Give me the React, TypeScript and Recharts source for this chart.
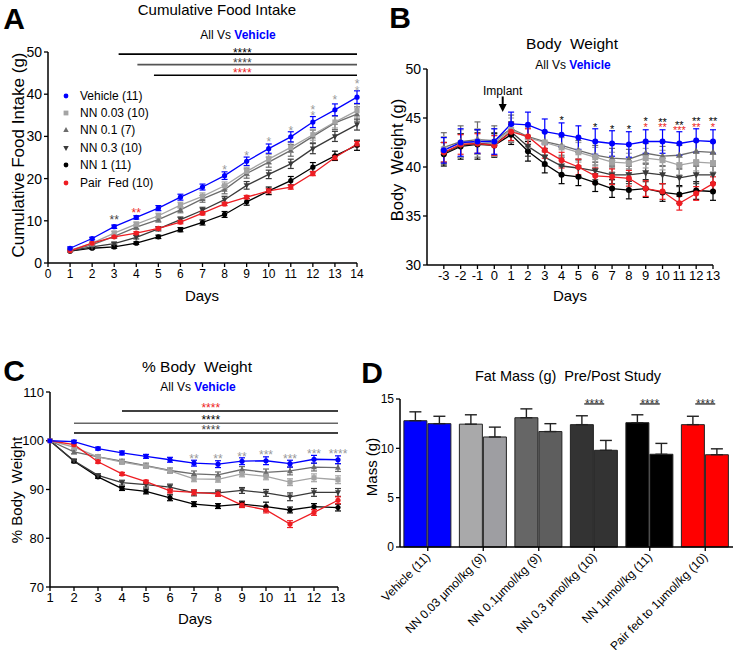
import React from 'react';
import {
  LineChart, Line, XAxis, YAxis, ErrorBar, ReferenceLine, ReferenceDot, Legend,
  BarChart, Bar, Cell,
} from 'recharts';

const FONT = '"Liberation Sans", Arial, Helvetica, sans-serif';

const BLUE = '#0000FF';
const LGRAY = '#A4A4A4';
const MGRAY = '#6C6C6C';
const DGRAY = '#3A3A3A';
const BLACK = '#000000';
const RED = '#EE1D23';
const STARGRAY = '#999999';

// ---------------- Panel A : cumulative food intake ----------------
const foodDays = [1, 2, 3, 4, 5, 6, 7, 8, 9, 10, 11, 12, 13, 14];
const foodVehicle = [3.5, 5.8, 8.6, 10.8, 13.0, 15.6, 18.0, 20.7, 24.1, 27.1, 29.9, 33.4, 36.3, 39.3];
const foodNN003 = [3.0, 4.7, 7.1, 9.2, 11.2, 13.7, 15.8, 18.3, 21.7, 24.6, 27.4, 30.4, 33.4, 36.1];
const foodNN01 = [3.0, 4.3, 6.3, 8.5, 10.3, 12.6, 15.2, 17.4, 21.2, 23.9, 26.7, 30.0, 33.2, 35.3];
const foodNN03 = [2.9, 3.8, 4.6, 6.1, 8.1, 10.3, 12.5, 15.0, 18.4, 21.0, 23.5, 27.1, 30.0, 32.8];
const foodNN1 = [2.8, 3.5, 3.8, 4.7, 6.2, 7.9, 9.6, 11.5, 14.5, 17.1, 19.5, 22.7, 25.4, 27.9];
const foodPairFed = [2.9, 4.7, 6.2, 7.1, 8.2, 9.7, 11.8, 14.0, 15.6, 17.1, 18.0, 21.2, 25.0, 28.2];

const foodVehicleErr = [0.3, 0.3, 0.4, 0.4, 0.6, 0.7, 0.7, 0.9, 1.0, 1.1, 1.2, 1.3, 1.4, 1.5];
const foodNN003Err = [0.2, 0.3, 0.4, 0.5, 0.6, 0.7, 0.8, 0.9, 1.0, 1.1, 1.2, 1.3, 1.4, 1.5];
const foodNN01Err = [0.2, 0.3, 0.4, 0.5, 0.6, 0.7, 0.8, 1.0, 1.1, 1.2, 1.4, 1.5, 1.6, 1.7];
const foodNN03Err = [0.2, 0.3, 0.3, 0.4, 0.5, 0.6, 0.7, 0.8, 0.9, 1.0, 1.1, 1.2, 1.2, 1.3];
const foodNN1Err = [0.2, 0.2, 0.3, 0.3, 0.4, 0.5, 0.6, 0.7, 0.8, 0.9, 1.0, 1.1, 1.1, 1.2];
const foodPairFedErr = [0.1, 0.2, 0.2, 0.3, 0.3, 0.4, 0.4, 0.4, 0.4, 0.5, 0.5, 0.5, 0.5, 0.6];

const foodSigLines = [
  { x1: 3.2, x2: 14, y: 49.5, c: '#000' },
  { x1: 4.05, x2: 14, y: 47.0, c: '#555' },
  { x1: 4.8, x2: 14, y: 44.5, c: '#000' },
];
const foodStars = [
  { x: 8.8, y: 50.5, t: '****', c: '#000' },
  { x: 8.8, y: 48.1, t: '****', c: '#444' },
  { x: 8.8, y: 45.6, t: '****', c: RED },
  { x: 3, y: 10.9, t: '**', c: '#444' },
  { x: 4, y: 12.5, t: '**', c: RED },
  { x: 8, y: 22.8, t: '*', c: STARGRAY },
  { x: 9, y: 26.0, t: '*', c: STARGRAY },
  { x: 10, y: 29.4, t: '*', c: STARGRAY },
  { x: 11, y: 31.9, t: '*', c: STARGRAY },
  { x: 12, y: 37.0, t: '*', c: STARGRAY },
  { x: 12, y: 35.6, t: '*', c: STARGRAY },
  { x: 13, y: 39.3, t: '*', c: STARGRAY },
  { x: 14, y: 43.1, t: '*', c: STARGRAY },
  { x: 14, y: 41.5, t: '*', c: '#aaaaaa' },
];

// ---------------- Panel B : body weight ----------------
const bwDays = [-3, -2, -1, 0, 1, 2, 3, 4, 5, 6, 7, 8, 9, 10, 11, 12, 13];
const bwVehicle = [41.7, 42.5, 42.6, 42.6, 44.4, 44.3, 43.6, 43.3, 43.0, 42.6, 42.4, 42.3, 42.6, 42.6, 42.4, 42.7, 42.6];
const bwNN003 = [41.8, 42.4, 42.6, 42.5, 43.8, 43.0, 42.5, 42.0, 41.5, 41.0, 40.5, 40.4, 40.9, 40.7, 40.2, 40.5, 40.4];
const bwNN01 = [42.0, 42.6, 42.8, 42.7, 43.9, 43.1, 42.6, 42.2, 41.7, 41.2, 40.9, 40.8, 41.4, 41.1, 41.2, 41.6, 41.5];
const bwNN03 = [41.4, 42.2, 42.4, 42.3, 43.6, 42.1, 41.0, 40.1, 39.9, 39.6, 39.2, 39.2, 39.4, 39.2, 38.9, 39.2, 39.2];
const bwNN1 = [41.3, 42.1, 42.3, 42.2, 43.3, 41.6, 40.3, 39.2, 39.0, 38.4, 37.8, 37.65, 37.8, 37.4, 37.2, 37.6, 37.5];
const bwPairFed = [41.5, 42.3, 42.4, 42.2, 43.6, 43.1, 41.7, 40.7, 40.0, 39.1, 39.0, 38.85, 37.8, 37.5, 36.3, 37.3, 38.3];

const bwVehicleErr = [1.3, 1.4, 1.2, 1.3, 1.2, 1.3, 1.3, 1.2, 1.2, 1.3, 1.3, 1.3, 1.2, 1.2, 1.2, 1.2, 1.2];
const bwNN003Err = [1.3, 1.4, 1.3, 1.4, 1.2, 1.0, 1.0, 1.0, 1.0, 1.0, 1.0, 1.0, 1.0, 1.0, 1.0, 0.9, 0.9];
const bwNN01Err = [1.5, 1.6, 1.8, 1.5, 1.4, 1.0, 1.0, 1.0, 1.0, 1.0, 1.0, 1.0, 1.0, 1.0, 1.0, 1.0, 1.0];
const bwNN03Err = [1.1, 1.2, 1.1, 1.2, 1.0, 1.0, 0.9, 0.9, 0.9, 0.9, 0.9, 0.9, 0.9, 0.9, 0.9, 0.9, 0.9];
const bwNN1Err = [1.2, 1.3, 1.5, 1.2, 1.0, 1.0, 0.9, 0.9, 0.9, 0.9, 0.9, 0.9, 0.9, 0.9, 0.9, 0.9, 0.9];
const bwPairFedErr = [1.0, 1.0, 1.0, 1.0, 0.9, 0.8, 0.8, 0.8, 0.8, 0.8, 0.8, 0.8, 0.8, 0.8, 0.7, 0.7, 0.7];

const bwStars = [
  { x: 4, y: 45.0, t: '*', c: '#000' },
  { x: 6, y: 44.3, t: '*', c: '#000' },
  { x: 7, y: 44.15, t: '*', c: '#000' },
  { x: 8, y: 44.1, t: '*', c: '#000' },
  { x: 9, y: 44.9, t: '*', c: '#000' },
  { x: 10, y: 44.8, t: '**', c: '#000' },
  { x: 11, y: 44.55, t: '**', c: '#000' },
  { x: 12, y: 44.9, t: '**', c: '#000' },
  { x: 13, y: 44.9, t: '**', c: '#000' },
  { x: 9, y: 44.3, t: '*', c: RED },
  { x: 10, y: 44.3, t: '**', c: RED },
  { x: 11, y: 44.05, t: '***', c: RED },
  { x: 12, y: 44.35, t: '**', c: RED },
  { x: 13, y: 44.35, t: '*', c: RED },
];
const implantDay = 0.5;
const implantArrow = [47.2, 45.6];
const implantTextY = 47.75;

// ---------------- Panel C : % body weight ----------------
const pctDays = [1, 2, 3, 4, 5, 6, 7, 8, 9, 10, 11, 12, 13];
const pctVehicle = [100, 99.8, 98.4, 97.5, 96.8, 96.1, 95.4, 95.2, 95.8, 95.9, 95.3, 96.2, 96.1];
const pctNN003 = [100, 98.7, 96.7, 95.6, 94.8, 93.8, 92.2, 92.1, 93.2, 92.7, 91.5, 92.4, 92.0];
const pctNN01 = [100, 97.7, 96.7, 95.8, 94.9, 93.9, 93.2, 93.0, 94.1, 93.5, 93.8, 94.6, 94.5];
const pctNN03 = [100, 95.9, 92.9, 91.4, 91.0, 90.5, 89.3, 89.3, 89.8, 89.3, 88.5, 89.4, 89.4];
const pctNN1 = [100, 95.8, 92.6, 90.2, 89.6, 88.3, 87.0, 86.6, 87.0, 86.5, 85.8, 86.5, 86.3];
const pctPairFed = [100, 99.2, 95.7, 93.2, 91.6, 89.7, 89.4, 89.1, 86.8, 85.8, 82.9, 85.3, 87.8];

const pctVehicleErr = [0, 0.3, 0.3, 0.4, 0.4, 0.5, 0.6, 0.7, 0.7, 0.8, 0.7, 0.8, 0.8];
const pctNN003Err = [0, 0.4, 0.4, 0.4, 0.4, 0.5, 0.6, 0.6, 0.6, 0.7, 0.7, 0.8, 0.8];
const pctNN01Err = [0, 0.4, 0.4, 0.4, 0.5, 0.5, 0.6, 0.6, 0.6, 0.7, 0.8, 0.8, 0.8];
const pctNN03Err = [0, 0.3, 0.3, 0.5, 0.5, 0.6, 0.6, 0.6, 0.6, 0.7, 0.8, 0.8, 0.8];
const pctNN1Err = [0, 0.3, 0.3, 0.4, 0.5, 0.6, 0.5, 0.5, 0.6, 0.9, 0.6, 0.6, 0.7];
const pctPairFedErr = [0, 0.3, 0.3, 0.3, 0.3, 0.4, 0.5, 0.5, 0.5, 0.6, 0.7, 0.6, 0.7];

const pctSigLines = [
  { x1: 4, x2: 13, y: 106.1, c: '#000' },
  { x1: 2, x2: 13, y: 103.6, c: '#666' },
  { x1: 2, x2: 13, y: 101.6, c: '#000' },
];
const pctStars = [
  { x: 7.7, y: 107.3, t: '****', c: RED },
  { x: 7.7, y: 104.8, t: '****', c: '#000' },
  { x: 7.7, y: 102.7, t: '****', c: '#444' },
  { x: 7, y: 96.8, t: '**', c: STARGRAY },
  { x: 8, y: 96.8, t: '**', c: STARGRAY },
  { x: 9, y: 97.3, t: '**', c: STARGRAY },
  { x: 10, y: 97.7, t: '***', c: STARGRAY },
  { x: 11, y: 96.8, t: '***', c: STARGRAY },
  { x: 12, y: 97.8, t: '***', c: STARGRAY },
  { x: 13, y: 97.8, t: '****', c: STARGRAY },
];

// ---------------- Panel D : fat mass ----------------
const fatGroups = [
  'Vehicle (11)',
  'NN 0.03 µmol/kg (9)',
  'NN 0.1µmol/kg (9)',
  'NN 0.3 µmol/kg (10)',
  'NN 1µmol/kg (11)',
  'Pair fed to 1µmol/kg (10)',
];
const fatPre = [12.8, 12.45, 13.1, 12.4, 12.6, 12.4];
const fatPreErr = [0.9, 0.95, 0.9, 0.9, 0.8, 0.85];
const fatPost = [12.5, 11.15, 11.7, 9.8, 9.4, 9.35];
const fatPostErr = [0.75, 1.0, 0.8, 1.0, 1.1, 0.6];
const fatSigGroups = ['NN 0.3 µmol/kg (10)', 'NN 1µmol/kg (11)', 'Pair fed to 1µmol/kg (10)'];
const fatSigY = 14.5;
const fatPreColors = [BLUE, '#A9A9AA', '#666666', '#333333', '#000000', '#FF0000'];
const fatPostColors = [BLUE, '#9E9EA2', '#5E5E5E', '#333333', '#000000', '#FF0000'];

// ---------------- series config ----------------
type Shape = 'circle' | 'square' | 'up' | 'down';
interface SeriesCfg { key: string; name: string; color: string; shape: Shape }
const SERIES: SeriesCfg[] = [
  { key: 'veh', name: 'Vehicle (11)', color: BLUE, shape: 'circle' },
  { key: 'nn003', name: 'NN 0.03 (10)', color: LGRAY, shape: 'square' },
  { key: 'nn01', name: 'NN 0.1 (7)', color: MGRAY, shape: 'up' },
  { key: 'nn03', name: 'NN 0.3 (10)', color: DGRAY, shape: 'down' },
  { key: 'nn1', name: 'NN 1 (11)', color: BLACK, shape: 'circle' },
  { key: 'pf', name: 'Pair  Fed (10)', color: RED, shape: 'circle' },
];
const DRAW_ORDER = ['nn1', 'nn03', 'nn01', 'nn003', 'pf', 'veh'];

function buildRows(days: number[], vals: Record<string, number[]>, errs: Record<string, number[]>) {
  return days.map((d, i) => {
    const row: any = { day: d };
    Object.keys(vals).forEach((k) => {
      row[k] = vals[k][i];
      row[k + 'E'] = errs[k][i];
    });
    return row;
  });
}

const foodRows = buildRows(
  foodDays,
  { veh: foodVehicle, nn003: foodNN003, nn01: foodNN01, nn03: foodNN03, nn1: foodNN1, pf: foodPairFed },
  { veh: foodVehicleErr, nn003: foodNN003Err, nn01: foodNN01Err, nn03: foodNN03Err, nn1: foodNN1Err, pf: foodPairFedErr },
);
const bwRows = buildRows(
  bwDays,
  { veh: bwVehicle, nn003: bwNN003, nn01: bwNN01, nn03: bwNN03, nn1: bwNN1, pf: bwPairFed },
  { veh: bwVehicleErr, nn003: bwNN003Err, nn01: bwNN01Err, nn03: bwNN03Err, nn1: bwNN1Err, pf: bwPairFedErr },
);
const pctRows = buildRows(
  pctDays,
  { veh: pctVehicle, nn003: pctNN003, nn01: pctNN01, nn03: pctNN03, nn1: pctNN1, pf: pctPairFed },
  { veh: pctVehicleErr, nn003: pctNN003Err, nn01: pctNN01Err, nn03: pctNN03Err, nn1: pctNN1Err, pf: pctPairFedErr },
);
const fatRows = fatGroups.map((g, i) => ({
  group: g, pre: fatPre[i], post: fatPost[i], preE: [0, fatPreErr[i]], postE: [0, fatPostErr[i]],
}));

// ---------------- helpers ----------------
function Marker({ shape, cx, cy, color, size }: { shape: Shape; cx: number; cy: number; color: string; size: number }) {
  const s = size;
  if (shape === 'square') return <rect x={cx - s} y={cy - s} width={2 * s} height={2 * s} fill={color} />;
  if (shape === 'up')
    return <polygon points={`${cx},${cy - s * 1.25} ${cx - s * 1.15},${cy + s * 0.85} ${cx + s * 1.15},${cy + s * 0.85}`} fill={color} />;
  if (shape === 'down')
    return <polygon points={`${cx},${cy + s * 1.25} ${cx - s * 1.15},${cy - s * 0.85} ${cx + s * 1.15},${cy - s * 0.85}`} fill={color} />;
  return <circle cx={cx} cy={cy} r={s} fill={color} />;
}

const mkDot = (shape: Shape, color: string, size: number) => (p: any) => {
  if (p.cx == null || p.cy == null) return <g key={p.index} />;
  return <g key={p.index}><Marker shape={shape} cx={p.cx} cy={p.cy} color={color} size={size} /></g>;
};

const renderLines = (size: number, cap: number, width: number) =>
  DRAW_ORDER.map((k) => {
    const s = SERIES.find((x) => x.key === k)!;
    return (
      <Line
        key={k}
        type="linear"
        dataKey={k}
        name={s.name}
        stroke={s.color}
        strokeWidth={width}
        isAnimationActive={false}
        dot={mkDot(s.shape, s.color, size)}
        activeDot={false}
      >
        <ErrorBar dataKey={k + 'E'} width={cap} stroke={s.color} strokeWidth={1.2} direction="y" />
      </Line>
    );
  });

const renderStars = (list: { x: number; y: number; t: string; c: string }[], fs: number) =>
  list.map((s, i) => (
    <ReferenceDot
      key={'st' + i}
      x={s.x}
      y={s.y}
      r={0}
      ifOverflow="visible"
      shape={(p: any) => (
        <text x={p.cx} y={p.cy + 0.57 * fs} textAnchor="middle" fontSize={fs} fill={s.c} fontFamily={FONT}>
          {s.t}
        </text>
      )}
    />
  ));

const renderSigLines = (list: { x1: number; x2: number; y: number; c: string }[]) =>
  list.map((l, i) => (
    <ReferenceLine
      key={'sl' + i}
      segment={[{ x: l.x1, y: l.y }, { x: l.x2, y: l.y }]}
      stroke={l.c}
      strokeWidth={1.6}
      ifOverflow="visible"
    />
  ));

const axisLine = { stroke: '#000', strokeWidth: 1.5 };
const tickLine = { stroke: '#000', strokeWidth: 1.3 };

function Txt(props: { x: number; y: number; size: number; bold?: boolean; rotate?: number; color?: string; children: any }) {
  const { x, y, size, bold, rotate, color, children } = props;
  return (
    <div
      style={{
        position: 'absolute', left: x, top: y,
        transform: `translate(-50%, -50%)${rotate ? ` rotate(${rotate}deg)` : ''}`,
        fontSize: size, fontWeight: bold ? 700 : 400, lineHeight: 1, whiteSpace: 'pre',
        color: color || '#000', fontFamily: FONT,
      }}
    >
      {children}
    </div>
  );
}

const AllVs = () => (
  <span>All Vs <span style={{ color: BLUE, fontWeight: 700 }}>Vehicle</span></span>
);

const FoodLegend = () => (
  <div style={{ fontFamily: FONT }}>
    {SERIES.map((s) => (
      <div key={s.key} style={{ display: 'flex', alignItems: 'center', height: 17.4, fontSize: 12, whiteSpace: 'pre', color: '#000' }}>
        <svg width={20} height={12} style={{ display: 'block' }}>
          <Marker shape={s.shape} cx={6} cy={6} color={s.color} size={2.4} />
        </svg>
        <span>{s.name}</span>
      </div>
    ))}
  </div>
);

const FatTick = (p: any) => {
  const x = p.x + 3;
  const y = p.y + 5;
  return (
    <text x={x} y={y} transform={`rotate(-45 ${x} ${y})`} textAnchor="end" fontSize={12} fill="#000" fontFamily={FONT}>
      {p.payload.value}
    </text>
  );
};

// ---------------- panels ----------------
function PanelA() {
  return (
    <div style={{ position: 'absolute', left: 0, top: 0 }}>
      <LineChart width={370} height={320} data={foodRows} margin={{ top: 52, right: 13, bottom: 27, left: 8 }}>
        <XAxis
          type="number" dataKey="day" domain={[0, 14]} ticks={[0, 1, 2, 3, 4, 5, 6, 7, 8, 9, 10, 11, 12, 13, 14]}
          height={30} axisLine={axisLine} tickLine={tickLine} tickSize={4}
          tick={{ fontSize: 12, fill: '#000' }} interval={0}
        />
        <YAxis
          type="number" domain={[0, 50]} ticks={[0, 10, 20, 30, 40, 50]} width={40}
          axisLine={axisLine} tickLine={tickLine} tickSize={4} tick={{ fontSize: 14, fill: '#000' }}
        />
        {renderSigLines(foodSigLines)}
        {renderLines(2.6, 3, 1.3)}
        {renderStars(foodStars, 12)}
        <Legend
          layout="vertical" align="center" verticalAlign="middle"
          wrapperStyle={{ left: 60, top: 87, width: 130, height: 106 }}
          content={() => <FoodLegend />}
        />
      </LineChart>
    </div>
  );
}

function PanelB() {
  return (
    <div style={{ position: 'absolute', left: 370, top: 0 }}>
      <LineChart width={363} height={320} data={bwRows} margin={{ top: 69, right: 20, bottom: 25, left: 17 }}>
        <XAxis
          type="number" dataKey="day" domain={[-4, 13]} ticks={bwDays}
          height={30} axisLine={axisLine} tickLine={tickLine} tickSize={4}
          tick={{ fontSize: 13, fill: '#000' }} interval={0}
        />
        <YAxis
          type="number" domain={[30, 50]} ticks={[30, 35, 40, 45, 50]} width={40}
          axisLine={axisLine} tickLine={tickLine} tickSize={4} tick={{ fontSize: 14, fill: '#000' }}
        />
        {renderLines(3, 3, 1.3)}
        {renderStars(bwStars, 11)}
        <ReferenceLine
          segment={[{ x: implantDay, y: implantArrow[0] }, { x: implantDay, y: implantArrow[1] }]}
          ifOverflow="visible"
          shape={(p: any) => (
            <g>
              <line x1={p.x1} y1={Math.min(p.y1, p.y2)} x2={p.x2} y2={Math.max(p.y1, p.y2) - 6} stroke="#000" strokeWidth={2} />
              <polygon
                points={`${p.x2 - 4},${Math.max(p.y1, p.y2) - 8} ${p.x2 + 4},${Math.max(p.y1, p.y2) - 8} ${p.x2},${Math.max(p.y1, p.y2)}`}
                fill="#000"
              />
            </g>
          )}
        />
        <ReferenceDot
          x={implantDay} y={implantTextY} r={0} ifOverflow="visible"
          shape={(p: any) => (
            <text x={p.cx} y={p.cy + 4.3} textAnchor="middle" fontSize={12} fill="#000" fontFamily={FONT}>Implant</text>
          )}
        />
      </LineChart>
    </div>
  );
}

function PanelC() {
  return (
    <div style={{ position: 'absolute', left: 0, top: 320 }}>
      <LineChart width={370} height={330} data={pctRows} margin={{ top: 72, right: 32, bottom: 33, left: 10 }}>
        <XAxis
          type="number" dataKey="day" domain={[1, 13]} ticks={pctDays}
          height={30} axisLine={axisLine} tickLine={tickLine} tickSize={4}
          tick={{ fontSize: 13, fill: '#000' }} interval={0}
        />
        <YAxis
          type="number" domain={[70, 110]} ticks={[70, 80, 90, 100, 110]} width={40}
          axisLine={axisLine} tickLine={tickLine} tickSize={4} tick={{ fontSize: 13, fill: '#000' }}
        />
        {renderSigLines(pctSigLines)}
        {renderLines(2.6, 3, 1.3)}
        {renderStars(pctStars, 12)}
      </LineChart>
    </div>
  );
}

function PanelD() {
  return (
    <div style={{ position: 'absolute', left: 370, top: 320 }}>
      <BarChart
        width={363} height={330} data={fatRows}
        margin={{ top: 79, right: 0, bottom: 3, left: 0 }}
        barCategoryGap="7%" barGap={1}
      >
        <XAxis
          dataKey="group" height={100} interval={0} axisLine={axisLine} tickLine={tickLine} tickSize={4}
          tick={<FatTick />}
        />
        <YAxis
          type="number" domain={[0, 15]} ticks={[0, 5, 10, 15]} width={30}
          axisLine={axisLine} tickLine={tickLine} tickSize={4} tick={{ fontSize: 12, fill: '#000' }}
        />
        <Bar dataKey="pre" isAnimationActive={false} stroke="#222" strokeWidth={1}>
          {fatRows.map((r, i) => <Cell key={'pre' + i} fill={fatPreColors[i]} />)}
          <ErrorBar dataKey="preE" width={6} stroke="#222" strokeWidth={1.4} direction="y" />
        </Bar>
        <Bar dataKey="post" isAnimationActive={false} stroke="#222" strokeWidth={1}>
          {fatRows.map((r, i) => <Cell key={'post' + i} fill={fatPostColors[i]} />)}
          <ErrorBar dataKey="postE" width={6} stroke="#222" strokeWidth={1.4} direction="y" />
        </Bar>
        {fatSigGroups.map((g) => (
          <ReferenceDot
            key={'sig' + g} x={g} y={fatSigY} r={0} ifOverflow="visible"
            shape={(p: any) => (
              <g>
                <line x1={p.cx - 10} x2={p.cx + 10} y1={p.cy} y2={p.cy} stroke="#444" strokeWidth={1.5} />
                <text x={p.cx} y={p.cy + 4.5} textAnchor="middle" fontSize={12} fill="#333" fontFamily={FONT}>****</text>
              </g>
            )}
          />
        ))}
      </BarChart>
    </div>
  );
}

export default function App() {
  return (
    <div
      style={{
        position: 'absolute', left: 0, top: 0, width: 733, height: 650,
        background: '#fff', fontFamily: FONT, color: '#000', overflow: 'hidden',
      }}
    >
      <PanelA />
      <PanelB />
      <PanelC />
      <PanelD />

      {/* Panel letters */}
      <Txt x={14} y={19} size={30} bold>A</Txt>
      <Txt x={400} y={18} size={30} bold>B</Txt>
      <Txt x={14} y={371} size={30} bold>C</Txt>
      <Txt x={372} y={373} size={30} bold>D</Txt>

      {/* Panel A texts */}
      <Txt x={217} y={9} size={15}>Cumulative Food Intake</Txt>
      <Txt x={238} y={35} size={12}><AllVs /></Txt>
      <Txt x={18} y={155} size={17} rotate={-90}>Cumulative Food Intake (g)</Txt>
      <Txt x={202} y={295} size={15}>Days</Txt>

      {/* Panel B texts */}
      <Txt x={572} y={44} size={15.5}>Body  Weight</Txt>
      <Txt x={573} y={65} size={12}><AllVs /></Txt>
      <Txt x={397} y={160} size={16.5} rotate={-90}>Body  Weight (g)</Txt>
      <Txt x={570} y={295} size={15}>Days</Txt>

      {/* Panel C texts */}
      <Txt x={197} y={367} size={15.5}>% Body  Weight</Txt>
      <Txt x={198} y={387} size={12}><AllVs /></Txt>
      <Txt x={16} y={490} size={15} rotate={-90}>% Body  Weight</Txt>
      <Txt x={195} y={618} size={15}>Days</Txt>

      {/* Panel D texts */}
      <Txt x={568} y={376} size={14.5}>Fat Mass (g)  Pre/Post Study</Txt>
      <Txt x={371} y={467} size={15} rotate={-90}>Mass (g)</Txt>
    </div>
  );
}
